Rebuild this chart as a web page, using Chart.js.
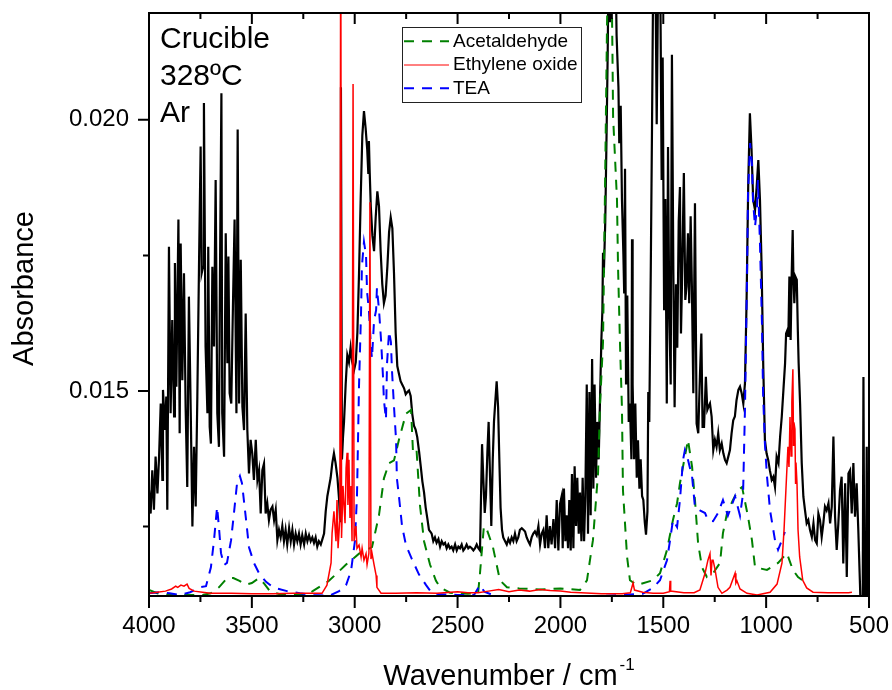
<!DOCTYPE html>
<html>
<head>
<meta charset="utf-8">
<title>Crucible 328ºC Ar</title>
<script src="https://cdn.jsdelivr.net/npm/chart.js"></script>
<style>
  html, body { margin: 0; padding: 0; background: #fff; }
  #chart { display: block; }
</style>
</head>
<body>
<canvas id="chart" width="892" height="690"></canvas>
<script>
const FONT = '"Liberation Sans", Arial, Helvetica, sans-serif';

// axis ticks
const xMajor = [4000, 3500, 3000, 2500, 2000, 1500, 1000, 500];
const xMinor = [3750, 3250, 2750, 2250, 1750, 1250, 750];
const yMajor = [0.015, 0.020];
const yMinor = [0.0125, 0.0175];

const notes = ["Crucible", "328ºC", "Ar"];

// [wavenumber, absorbance]
const sample = [
  [4000,0.01317],[3992,0.01274],[3984,0.01354],[3976,0.01281],[3968,0.01379],[3959,0.01311],[3951,0.01379],[3943,0.01477],
  [3935,0.01336],[3932,0.01502],[3922,0.01428],[3916,0.01490],[3911,0.01281],[3903,0.01766],[3895,0.01459],[3887,0.01631],
  [3878,0.01453],[3874,0.01736],[3867,0.01508],[3857,0.01816],[3851,0.01422],[3846,0.01772],[3838,0.01520],[3830,0.01717],
  [3822,0.01471],[3814,0.01323],[3806,0.01674],[3797,0.01459],[3789,0.01250],[3781,0.01397],[3773,0.01287],[3765,0.01490],
  [3757,0.01729],[3749,0.01951],[3744,0.01717],[3737,0.01729],[3733,0.02031],[3725,0.01582],[3716,0.01459],[3712,0.01766],
  [3705,0.01434],[3699,0.01403],[3692,0.01729],[3684,0.01582],[3676,0.01889],[3668,0.01459],[3660,0.01397],[3655,0.01717],
  [3648,0.02049],[3644,0.01459],[3635,0.01379],[3627,0.01791],[3619,0.01551],[3614,0.01748],[3608,0.01496],[3600,0.01477],
  [3592,0.01656],[3584,0.01816],[3575,0.01459],[3569,0.01982],[3562,0.01477],[3554,0.01742],[3546,0.01471],[3538,0.01428],
  [3530,0.01643],[3522,0.01428],[3514,0.01348],[3506,0.01410],[3498,0.01385],[3490,0.01336],[3481,0.01410],[3473,0.01336],
  [3465,0.01354],[3457,0.01274],[3449,0.01354],[3441,0.01366],[3433,0.01274],[3425,0.01293],[3417,0.01262],[3409,0.01281],
  [3400,0.01287],[3392,0.01262],[3384,0.01281],[3376,0.01225],
  [3368,0.01244],[3360,0.01230],[3352,0.01251],[3344,0.01223],[3336,0.01244],[3328,0.01217],[3319,0.01247],[3311,0.01223],
  [3303,0.01244],[3295,0.01217],[3287,0.01237],[3279,0.01223],[3271,0.01237],[3263,0.01217],[3255,0.01234],[3246,0.01217],
  [3238,0.01237],[3230,0.01223],[3222,0.01234],[3214,0.01223],[3206,0.01230],[3198,0.01220],[3190,0.01230],[3182,0.01213],
  [3174,0.01223],[3165,0.01217],[3157,0.01227],[3149,0.01237],[3141,0.01278],[3133,0.01306],[3125,0.01323],[3117,0.01340],
  [3109,0.01367],[3101,0.01385],[3093,0.01367],[3084,0.01340],[3076,0.01300],[3071,0.01260],[3067,0.02060],[3062,0.01374],
  [3057,0.01415],[3052,0.01443],[3044,0.01512],[3036,0.01566],[3028,0.01553],[3020,0.01580],[3012,0.01553],[3003,0.01539],
  [2995,0.01553],[2987,0.01608],[2979,0.01717],[2971,0.01854],[2963,0.01971],[2955,0.02016],[2947,0.01985],[2939,0.01944],
  [2934,0.01902],[2931,0.01961],[2927,0.01902],[2922,0.01841],[2914,0.01786],[2906,0.01758],[2898,0.01820],[2890,0.01868],
  [2882,0.01841],[2874,0.01758],[2866,0.01697],[2858,0.01662],[2850,0.01676],[2841,0.01731],[2833,0.01793],[2825,0.01820],
  [2817,0.01800],[2809,0.01717],[2801,0.01608],[2793,0.01546],[2785,0.01532],[2777,0.01518],[2768,0.01511],[2760,0.01505],
  [2752,0.01494],[2744,0.01498],[2736,0.01501],[2728,0.01491],[2720,0.01457],[2712,0.01436],[2704,0.01429],[2696,0.01415],
  [2687,0.01388],[2679,0.01361],[2671,0.01333],[2663,0.01313],[2655,0.01285],[2647,0.01265],[2639,0.01244],
  [2631,0.01240],[2626,0.01237],[2618,0.01223],[2610,0.01230],[2602,0.01220],[2593,0.01227],[2585,0.01213],[2577,0.01223],
  [2569,0.01217],[2561,0.01220],[2553,0.01210],[2545,0.01217],[2537,0.01210],[2529,0.01213],[2521,0.01206],[2512,0.01217],
  [2504,0.01206],[2496,0.01213],[2488,0.01210],[2480,0.01217],[2472,0.01206],[2464,0.01210],[2456,0.01217],[2448,0.01210],
  [2440,0.01213],[2431,0.01210],[2423,0.01206],[2415,0.01210],[2407,0.01217],[2399,0.01210],[2391,0.01206],[2386,0.01306],
  [2381,0.01402],[2375,0.01340],[2368,0.01275],[2362,0.01306],[2355,0.01388],[2349,0.01443],[2342,0.01340],[2336,0.01251],
  [2329,0.01374],[2323,0.01443],[2316,0.01484],[2310,0.01518],[2303,0.01470],[2297,0.01374],[2291,0.01285],[2284,0.01244],
  [2278,0.01230],[2269,0.01223],[2261,0.01217],[2253,0.01227],[2245,0.01220],[2237,0.01230],[2229,0.01223],[2221,0.01237],
  [2213,0.01223],[2205,0.01230],[2197,0.01244],[2188,0.01247],[2180,0.01244],[2172,0.01241],[2164,0.01230],[2156,0.01223],
  [2148,0.01217],[2140,0.01230],[2132,0.01237],[2124,0.01241],[2115,0.01234],[2107,0.01251],[2099,0.01217],[2091,0.01237],
  [2083,0.01244],[2075,0.01210],[2067,0.01271],[2059,0.01210],[2051,0.01251],[2043,0.01217],[2034,0.01264],[2026,0.01210],
  [2018,0.01299],[2010,0.01206],[2002,0.01292],
  [1994,0.01306],[1989,0.01210],[1983,0.01320],[1976,0.01223],[1970,0.01271],[1963,0.01210],[1957,0.01299],[1950,0.01206],
  [1944,0.01347],[1937,0.01210],[1931,0.01361],[1924,0.01251],[1918,0.01340],[1911,0.01237],[1905,0.01313],[1898,0.01223],
  [1892,0.01340],[1885,0.01223],[1879,0.01306],[1872,0.01512],[1866,0.01237],[1859,0.01498],[1853,0.01271],[1846,0.01559],
  [1840,0.01320],[1834,0.01512],[1827,0.01340],[1821,0.01443],[1814,0.01374],[1808,0.01477],[1801,0.01594],[1796,0.01649],
  [1793,0.01755],[1789,0.01717],[1782,0.01813],[1775,0.01992],[1770,0.02129],[1765,0.02350],[1759,0.02180],[1751,0.02380],
  [1743,0.02260],[1735,0.02360],[1727,0.02156],[1718,0.02060],[1714,0.01957],[1707,0.02026],[1701,0.01854],[1694,0.01752],
  [1690,0.01680],[1686,0.01910],[1681,0.01512],[1675,0.01676],[1668,0.01443],[1662,0.01477],[1655,0.01374],[1652,0.01780],
  [1649,0.01512],[1642,0.01374],[1636,0.01477],[1629,0.01340],[1623,0.01409],[1616,0.01320],[1610,0.01374],[1603,0.01306],
  [1597,0.01299],[1590,0.01258],[1584,0.01235],[1577,0.01278],[1573,0.01498],[1568,0.01443],[1561,0.01717],[1555,0.01978],
  [1548,0.02320],[1540,0.02360],[1532,0.01992],[1524,0.02300],[1516,0.02340],[1508,0.01889],[1503,0.02115],[1496,0.01649],
  [1490,0.01854],[1483,0.01477],[1477,0.01950],[1471,0.01649],[1464,0.01512],[1458,0.02120],[1451,0.01717],[1445,0.01470],
  [1438,0.01697],[1432,0.01580],[1425,0.01813],
  [1419,0.01876],[1414,0.01606],[1409,0.01700],[1400,0.01902],[1393,0.01668],[1387,0.01693],[1380,0.01791],[1374,0.01662],
  [1367,0.01822],[1361,0.01693],[1354,0.01496],[1346,0.01846],[1338,0.01440],[1330,0.01422],[1322,0.01526],[1315,0.01606],
  [1309,0.01434],[1302,0.01434],[1293,0.01526],[1286,0.01465],[1280,0.01471],[1273,0.01477],[1265,0.01453],[1257,0.01391],
  [1249,0.01410],[1241,0.01397],[1233,0.01422],[1225,0.01391],[1216,0.01403],[1208,0.01385],[1200,0.01373],[1192,0.01367],
  [1184,0.01379],[1176,0.01391],[1168,0.01422],[1160,0.01446],[1152,0.01453],[1144,0.01483],[1135,0.01502],[1127,0.01508],
  [1119,0.01496],[1111,0.01477],[1103,0.01514],[1095,0.01668],[1087,0.01883],[1079,0.02012],[1071,0.01945],[1063,0.01852],
  [1054,0.01834],[1046,0.01877],[1038,0.01926],[1030,0.01852],[1022,0.01729],[1014,0.01545],[1006,0.01410],[998,0.01385],
  [990,0.01373],[982,0.01354],[973,0.01336],[965,0.01342],[957,0.01323],[949,0.01379],[940,0.01367],
  [932,0.01416],[924,0.01453],[916,0.01502],[908,0.01551],[903,0.01606],[897,0.01612],[892,0.01600],[887,0.01711],
  [881,0.01594],[876,0.01711],[871,0.01797],[868,0.01723],[863,0.01662],[858,0.01711],[851,0.01705],[846,0.01612],
  [842,0.01551],[835,0.01477],[827,0.01367],[819,0.01305],[811,0.01280],[803,0.01256],[795,0.01262],[787,0.01244],
  [778,0.01231],[770,0.01256],[762,0.01225],[754,0.01219],[746,0.01274],[738,0.01262],[730,0.01231],[722,0.01256],
  [714,0.01287],[706,0.01280],[697,0.01293],[689,0.01256],[681,0.01287],[673,0.01416],[665,0.01268],[657,0.01207],
  [649,0.01256],[641,0.01317],[633,0.01342],[625,0.01182],[616,0.01330],[608,0.01157],[600,0.01348],[592,0.01354],
  [584,0.01274],[576,0.01367],[568,0.01268],[560,0.01330],[552,0.01244],[544,0.01145],[537,0.01050],[531,0.01050],
  [527,0.01526],[522,0.01050],[516,0.01050],[511,0.01397],[506,0.01050],[500,0.01050]
];

const acetaldehyde = [
  [4000,0.01133],[3960,0.01127],[3900,0.01124],[3800,0.01124],[3740,0.01124],[3700,0.01127],[3660,0.01138],[3620,0.01155],
  [3590,0.01155],[3560,0.01150],[3530,0.01143],[3500,0.01146],[3465,0.01155],[3440,0.01145],[3410,0.01130],[3350,0.01124],
  [3250,0.01124],[3208,0.01130],[3125,0.01150],[3042,0.01180],[2979,0.01200],[2916,0.01212],[2882,0.01271],[2858,0.01339],
  [2833,0.01367],[2809,0.01372],[2785,0.01410],[2751,0.01458],[2726,0.01465],[2717,0.01390],[2700,0.01395],[2683,0.01290],
  [2663,0.01223],[2634,0.01180],[2605,0.01150],[2585,0.01138],[2537,0.01128],[2450,0.01126],[2400,0.01128],[2391,0.01164],
  [2372,0.01251],[2357,0.01244],[2328,0.01212],[2294,0.01151],[2260,0.01138],[2200,0.01136],[2100,0.01134],[2000,0.01136],
  [1905,0.01133],[1871,0.01151],[1842,0.01225],[1817,0.01349],[1808,0.01470],[1793,0.01590],[1784,0.01850],[1774,0.02160],
  [1768,0.02320],[1760,0.02380],[1752,0.02280],[1747,0.02120],[1744,0.02006],[1725,0.01852],[1720,0.01729],[1710,0.01581],
  [1701,0.01470],[1696,0.01317],[1676,0.01194],[1662,0.01151],[1628,0.01142],[1550,0.01151],[1516,0.01164],[1482,0.01207],
  [1453,0.01262],[1433,0.01293],[1419,0.01330],[1380,0.01410],[1360,0.01360],[1346,0.01299],[1331,0.01220],[1312,0.01175],
  [1288,0.01157],[1258,0.01164],[1224,0.01183],[1210,0.01238],[1190,0.01275],[1161,0.01299],[1137,0.01317],[1117,0.01323],
  [1088,0.01268],[1069,0.01225],[1054,0.01175],[996,0.01170],[942,0.01183],[899,0.01201],[870,0.01170],[845,0.01157],
  [820,0.01150]
];

const ethyleneOxide = [
  [4000,0.01127],[3960,0.01129],[3920,0.01131],[3890,0.01135],[3870,0.01140],[3860,0.01138],[3845,0.01142],[3830,0.01140],
  [3815,0.01144],[3805,0.01136],[3780,0.01131],[3740,0.01129],[3700,0.01127],[3600,0.01127],[3500,0.01126],[3400,0.01126],
  [3300,0.01127],[3200,0.01127],[3159,0.01127],[3135,0.01142],[3115,0.01183],[3110,0.01238],[3101,0.01278],[3091,0.01223],
  [3086,0.01299],[3081,0.01210],[3072,0.01266],[3068,0.02450],[3064,0.01229],[3057,0.01325],[3047,0.01256],[3042,0.01358],
  [3037,0.01386],[3033,0.01290],[3028,0.01373],[3023,0.01266],[3018,0.01325],[3013,0.01223],[3008,0.02066],[3003,0.01223],
  [2994,0.01251],[2989,0.01210],[2979,0.01216],[2969,0.01194],[2964,0.01210],[2955,0.01188],[2945,0.01200],[2940,0.01180],
  [2931,0.01201],[2926,0.01848],[2921,0.01190],[2916,0.01201],[2906,0.01180],[2896,0.01160],[2892,0.01138],[2872,0.01127],
  [2800,0.01127],[2700,0.01128],[2600,0.01127],[2500,0.01130],[2450,0.01128],[2400,0.01128],[2350,0.01131],[2300,0.01134],
  [2250,0.01130],[2200,0.01133],[2150,0.01131],[2100,0.01134],[2050,0.01132],[2000,0.01131],[1950,0.01129],[1900,0.01128],
  [1800,0.01126],[1700,0.01126],[1660,0.01128],[1647,0.01146],[1640,0.01133],[1600,0.01129],[1550,0.01127],[1500,0.01127],
  [1470,0.01130],[1467,0.01150],[1464,0.01131],[1400,0.01128],[1350,0.01128],[1322,0.01133],[1297,0.01164],[1283,0.01188],
  [1273,0.01200],[1268,0.01160],[1263,0.01188],[1258,0.01188],[1249,0.01172],[1234,0.01138],[1215,0.01127],[1190,0.01133],
  [1176,0.01138],[1151,0.01164],[1147,0.01146],[1142,0.01150],[1127,0.01135],[1093,0.01127],[1044,0.01124],[981,0.01129],
  [947,0.01144],[923,0.01183],[913,0.01244],[904,0.01317],[894,0.01397],[889,0.01360],[884,0.01452],[879,0.01380],
  [875,0.01480],[870,0.01540],[867,0.01400],[865,0.01442],[860,0.01430],[857,0.01330],[855,0.01368],[850,0.01330],
  [845,0.01244],[837,0.01194],[822,0.01151],[803,0.01137],[772,0.01129],[700,0.01128],[600,0.01128],[583,0.01129]
];

const tea = [
  [4000,0.01127],[3950,0.01129],[3900,0.01127],[3850,0.01124],[3800,0.01129],[3752,0.01138],[3723,0.01140],[3699,0.01175],
  [3684,0.01225],[3669,0.01286],[3660,0.01249],[3650,0.01201],[3635,0.01179],[3621,0.01183],[3601,0.01225],[3587,0.01275],
  [3572,0.01330],[3558,0.01343],[3548,0.01330],[3528,0.01262],[3514,0.01212],[3490,0.01183],[3465,0.01164],[3431,0.01148],
  [3397,0.01138],[3329,0.01131],[3266,0.01127],[3200,0.01124],[3125,0.01122],[3076,0.01131],[3042,0.01142],[3018,0.01168],
  [2999,0.01223],[2989,0.01306],[2979,0.01511],[2969,0.01649],[2965,0.01730],[2955,0.01775],[2945,0.01750],[2940,0.01683],
  [2931,0.01649],[2921,0.01580],[2916,0.01560],[2906,0.01630],[2896,0.01649],[2892,0.01690],[2882,0.01650],[2872,0.01594],
  [2863,0.01530],[2858,0.01483],[2848,0.01448],[2843,0.01550],[2833,0.01610],[2824,0.01590],[2819,0.01539],[2809,0.01471],
  [2799,0.01410],[2795,0.01339],[2785,0.01306],[2770,0.01251],[2751,0.01216],[2722,0.01190],[2688,0.01162],[2653,0.01142],
  [2624,0.01127],[2585,0.01125],[2500,0.01124],[2420,0.01124],[2391,0.01142],[2370,0.01130],[2330,0.01124],[2270,0.01118],
  [2200,0.01120],[2100,0.01118],[2000,0.01122],[1900,0.01120],[1800,0.01122],[1700,0.01124],[1600,0.01126],[1550,0.01137],
  [1516,0.01151],[1482,0.01188],[1467,0.01225],[1453,0.01262],[1433,0.01249],[1419,0.01299],[1404,0.01373],[1395,0.01391],
  [1380,0.01373],[1360,0.01342],[1346,0.01286],[1322,0.01280],[1297,0.01275],[1283,0.01262],[1258,0.01260],[1234,0.01275],
  [1210,0.01299],[1186,0.01270],[1151,0.01306],[1127,0.01270],[1112,0.01312],[1103,0.01465],[1093,0.01711],[1088,0.01865],
  [1078,0.01957],[1069,0.01920],[1064,0.01852],[1054,0.01803],[1044,0.01840],[1040,0.01889],[1030,0.01772],[1020,0.01619],
  [1015,0.01496],[1006,0.01403],[996,0.01343],[981,0.01280],[957,0.01225],[942,0.01207],[923,0.01225],[909,0.01240]
];

const toPoints = arr => arr.map(p => ({ x: p[0], y: p[1] }));

// frame, minor ticks, legend and text
const overlay = {
    id: "overlay",
    afterDraw(chart) {
        const { ctx, chartArea: a, scales: { x, y } } = chart;
        ctx.save();
        ctx.strokeStyle = "#000";
        ctx.lineWidth = 2;
        ctx.strokeRect(a.left, a.top, a.right - a.left, a.bottom - a.top);

        ctx.beginPath();
        xMajor.forEach(v => {
            const px = x.getPixelForValue(v);
            ctx.moveTo(px, a.bottom); ctx.lineTo(px, a.bottom + 12);
            ctx.moveTo(px, a.top); ctx.lineTo(px, a.top + 11);
        });
        xMinor.forEach(v => {
            const px = x.getPixelForValue(v);
            ctx.moveTo(px, a.bottom); ctx.lineTo(px, a.bottom + 6);
            ctx.moveTo(px, a.top); ctx.lineTo(px, a.top + 6);
        });
        yMajor.forEach(v => {
            const py = y.getPixelForValue(v);
            ctx.moveTo(a.left, py); ctx.lineTo(a.left - 11, py);
        });
        yMinor.forEach(v => {
            const py = y.getPixelForValue(v);
            ctx.moveTo(a.left, py); ctx.lineTo(a.left - 6, py);
        });
        ctx.stroke();

        ctx.fillStyle = "#000";
        ctx.textAlign = "left";
        ctx.textBaseline = "alphabetic";
        ctx.font = "30px " + FONT;
        notes.forEach((t, i) => ctx.fillText(t, a.left + 11, a.top + 35 + i * 37));

        // legend box
        const lx = 402, ly = 27;
        ctx.lineWidth = 1;
        ctx.strokeStyle = "#222";
        ctx.strokeRect(lx + 0.5, ly + 0.5, 179, 75);
        ctx.font = "19px " + FONT;
        ctx.textBaseline = "middle";
        chart.data.datasets.slice(1).forEach((ds, i) => {
            const cy = 41.3 + i * 23.5;
            ctx.beginPath();
            ctx.strokeStyle = ds.borderColor;
            ctx.lineWidth = ds.borderDash ? 2 : 1;
            ctx.setLineDash(ds.borderDash || []);
            const ly2 = ds.borderDash ? cy : Math.round(cy);
            ctx.moveTo(lx + 2, ly2); ctx.lineTo(lx + 47, ly2);
            ctx.stroke();
            ctx.setLineDash([]);
            ctx.fillText(ds.label, lx + 51, cy);
        });

        // axis titles
        ctx.textBaseline = "alphabetic";
        ctx.font = "29px " + FONT;
        const main = "Wavenumber / cm";
        const mainW = ctx.measureText(main).width;
        ctx.font = "17px " + FONT;
        const supW = ctx.measureText("-1").width;
        const sx = (a.left + a.right) / 2 - (mainW + 2 + supW) / 2;
        ctx.fillText("-1", sx + mainW + 2, 670);
        ctx.font = "29px " + FONT;
        ctx.fillText(main, sx, 685);

        ctx.translate(33, 288.5);
        ctx.rotate(-Math.PI / 2);
        ctx.textAlign = "center";
        ctx.fillText("Absorbance", 0, 0);
        ctx.restore();
    }
};

const ctx = document.getElementById("chart").getContext("2d");

new Chart(ctx, {
    type: "line",
    data: {
        datasets: [
            { label: "Sample", data: toPoints(sample), borderColor: "#000000", borderWidth: 2.2, order: 4 },
            { label: "Acetaldehyde", data: toPoints(acetaldehyde), borderColor: "#008000", borderWidth: 2, borderDash: [10, 8], order: 3 },
            { label: "Ethylene oxide", data: toPoints(ethyleneOxide), borderColor: "#ff0000", borderWidth: 1.5, order: 1 },
            { label: "TEA", data: toPoints(tea), borderColor: "#0000ff", borderWidth: 2, borderDash: [10, 8], order: 2 }
        ]
    },
    options: {
        responsive: false,
        animation: false,
        devicePixelRatio: 1,
        layout: { padding: { top: 13, right: 23, left: 0, bottom: 0 } },
        elements: { point: { radius: 0 }, line: { tension: 0, fill: false } },
        plugins: {
            legend: { display: false },
            tooltip: { enabled: false }
        },
        scales: {
            x: {
                type: "linear",
                reverse: true,
                min: 500,
                max: 4000,
                afterBuildTicks: axis => { axis.ticks = xMajor.map(v => ({ value: v })); },
                afterFit: axis => { axis.height = 94; axis.paddingLeft = 0; axis.paddingRight = 0; },
                grid: { display: false, drawTicks: true, tickLength: 12 },
                border: { display: false },
                ticks: { color: "#000", padding: 4, maxRotation: 0, autoSkip: false, font: { family: FONT, size: 24 }, callback: v => String(v) }
            },
            y: {
                min: 0.01122,
                max: 0.02197,
                afterBuildTicks: axis => { axis.ticks = yMajor.map(v => ({ value: v })); },
                afterFit: axis => { axis.width = 149; axis.paddingTop = 0; axis.paddingBottom = 0; },
                grid: { display: false, drawTicks: true, tickLength: 11 },
                border: { display: false },
                ticks: { color: "#000", padding: 9, font: { family: FONT, size: 24 }, callback: v => v.toFixed(3) }
            }
        }
    },
    plugins: [overlay]
});
</script>
</body>
</html>
